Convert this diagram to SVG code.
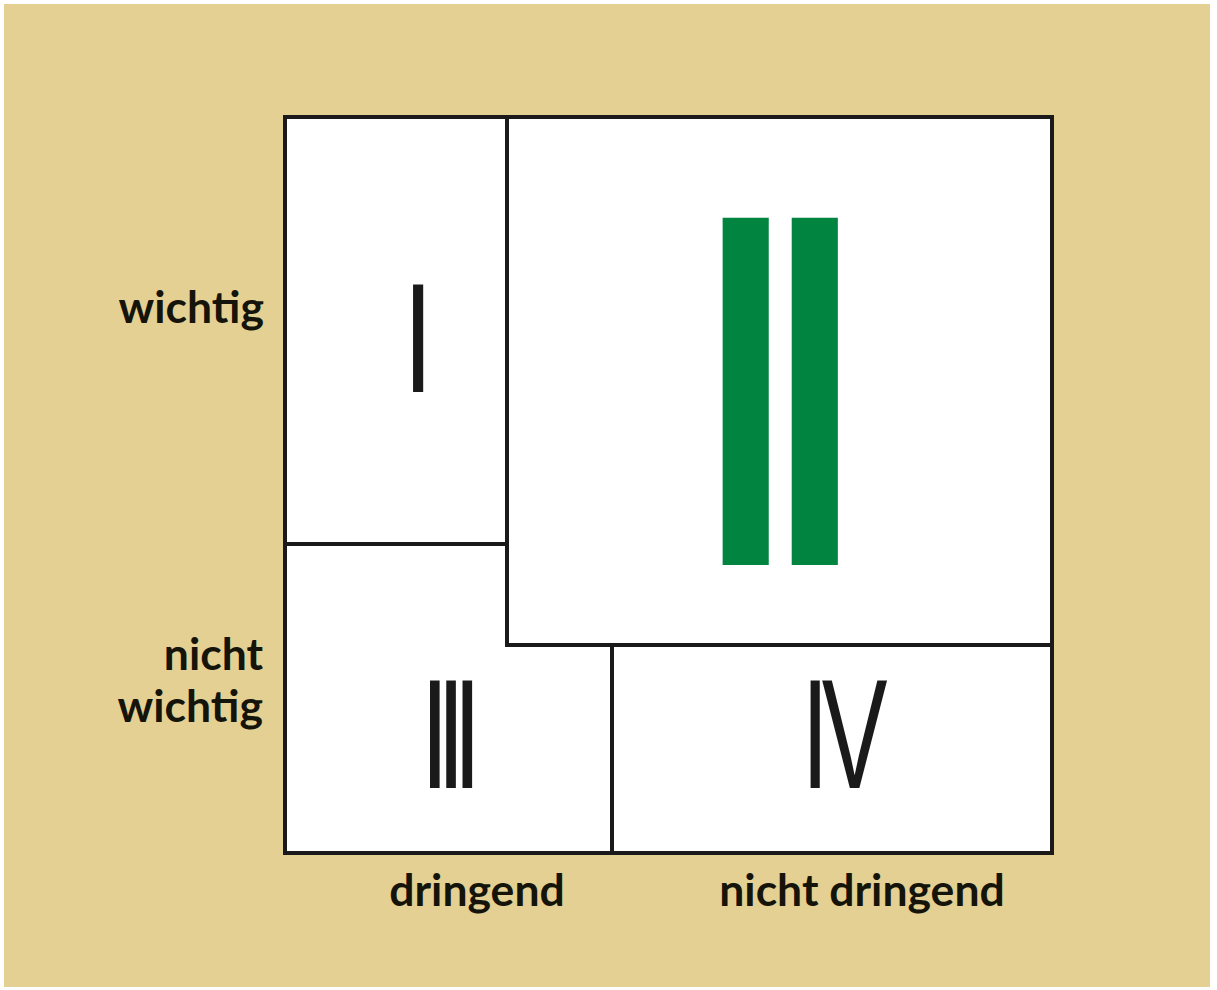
<svg xmlns="http://www.w3.org/2000/svg" width="1217" height="990" viewBox="0 0 1217 990">
<style>
.box{fill:#fff;stroke:#1a1a1a;stroke-width:4}
.ln{stroke:#1a1a1a;stroke-width:4;fill:none;stroke-linecap:square}
.lbl{font-family:Lato,"Liberation Sans",sans-serif;font-weight:bold;font-size:44.5px;fill:#15140a}
.num{font-family:"Liberation Sans",Arial,sans-serif;font-size:155.5px;fill:#1a1a1a}
.grn{font-family:"Liberation Sans",Arial,sans-serif;font-size:504.6px;fill:#00843f}
</style>
<rect x="0" y="0" width="1217" height="990" fill="#fff"/>
<rect x="4" y="4" width="1206" height="983" fill="#e4d093"/>
<g id="matrix">
<rect class="box" x="285" y="117" width="767" height="736"/>
</g>
<g id="connectors">
<line class="ln" x1="507" y1="117" x2="507" y2="645"/>
<line class="ln" x1="285" y1="544" x2="507" y2="544"/>
<line class="ln" x1="507" y1="645" x2="1052" y2="645"/>
<line class="ln" x1="612" y1="645" x2="612" y2="853"/>
</g>
<g id="q1"><text class="num" text-anchor="middle" transform="translate(418,392) scale(0.70,1)">I</text></g>
<g id="q2"><text class="grn" transform="translate(677,565) scale(0.98,1)" letter-spacing="-69.7">II</text></g>
<g id="q3"><text class="num" transform="translate(420.4,788) scale(0.663,1)" letter-spacing="-18.7">III</text></g>
<g id="q4"><text class="num" transform="translate(801.6,788) scale(0.634,1)" letter-spacing="-11.45">IV</text></g>
<g id="label-wichtig"><text class="lbl" x="264" y="323" text-anchor="end">wichtig</text></g>
<g id="label-nicht-wichtig"><text class="lbl" x="263" y="670" text-anchor="end">nicht</text><text class="lbl" x="263" y="722" text-anchor="end">wichtig</text></g>
<g id="label-dringend"><text class="lbl" x="477" y="906" text-anchor="middle">dringend</text></g>
<g id="label-nicht-dringend"><text class="lbl" x="862" y="906" text-anchor="middle">nicht dringend</text></g>
</svg>
